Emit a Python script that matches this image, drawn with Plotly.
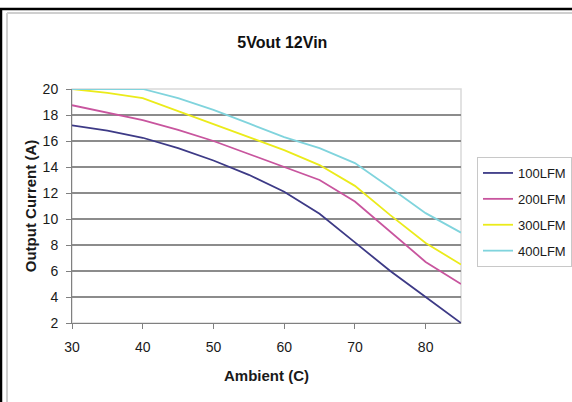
import plotly.graph_objects as go

# Derating curves: output current vs ambient temperature at four airflows
ambient_c = [30, 35, 40, 45, 50, 55, 60, 65, 70, 75, 80, 85]
lfm_100 = [17.2, 16.8, 16.25, 15.45, 14.5, 13.4, 12.1, 10.4, 8.2, 6.0, 4.0, 2.0]
lfm_200 = [18.75, 18.2, 17.6, 16.85, 16.0, 15.0, 14.0, 13.0, 11.35, 9.0, 6.7, 5.0]
lfm_300 = [20.0, 19.7, 19.3, 18.3, 17.35, 16.35, 15.3, 14.15, 12.55, 10.3, 8.15, 6.5]
lfm_400 = [20.0, 20.0, 20.0, 19.3, 18.4, 17.35, 16.3, 15.45, 14.3, 12.4, 10.45, 8.95]

series = [
    ("100LFM", lfm_100, "#3d3a86"),
    ("200LFM", lfm_200, "#c8559e"),
    ("300LFM", lfm_300, "#ebeb1a"),
    ("400LFM", lfm_400, "#80d4dd"),
]

x_ticks = [30, 40, 50, 60, 70, 80]
y_ticks = [2, 4, 6, 8, 10, 12, 14, 16, 18, 20]

W, H = 572, 402
ML, MR, MT, MB = 72, 111, 89, 79
PW, PH = W - ML - MR, H - MT - MB


def px(x):
    return (x - ML) / PW


def py(y):
    return (H - MB - y) / PH


FONT = "Liberation Sans, Arial, sans-serif"
AXIS_GREY = "#808080"

fig = go.Figure()
for i, (name, vals, color) in enumerate(series):
    fig.add_trace(go.Scatter(
        x=ambient_c, y=vals, name=name, mode="lines",
        line=dict(color=color, width=1.8),
        legendgroup=f"g{i}",
    ))

# outer frame lines
frame = [
    (0, 9, W, 9, "#000000", 2.5),
    (1, 9, 1, H, "#000000", 2.5),
    (7, 13, W, 13, "#cfcfcf", 2),
    (7, 13, 7, H, "#cfcfcf", 2),
]
shapes = [
    dict(type="line", xref="paper", yref="paper",
         x0=px(a), y0=py(b), x1=px(c), y1=py(d),
         line=dict(color=col, width=w))
    for a, b, c, d, col, w in frame
]
# light plot-area border
shapes.append(dict(type="rect", xref="x domain", yref="y domain",
                   x0=0, y0=0, x1=1, y1=1, layer="below",
                   line=dict(color="#d9d9d9", width=1.5)))

fig.update_layout(
    width=W, height=H,
    margin=dict(l=ML, r=MR, t=MT, b=MB, autoexpand=False),
    paper_bgcolor="white", plot_bgcolor="white",
    font=dict(family=FONT, size=14, color="#1a1a1a"),
    title=dict(text="<b>5Vout 12Vin</b>", x=px(264), xanchor="center",
               y=1 - 42 / H, yanchor="middle",
               font=dict(size=16, color="#111111")),
    xaxis=dict(
        range=[30, 85], tickvals=x_ticks, showgrid=False, zeroline=False,
        showline=True, linecolor=AXIS_GREY, linewidth=1,
        ticks="outside", ticklen=5, tickcolor=AXIS_GREY,
        tickfont=dict(size=14), ticklabelstandoff=6,
        title=dict(text="<b>Ambient (C)</b>", font=dict(size=15), standoff=16),
    ),
    yaxis=dict(
        range=[2, 20], tickvals=y_ticks, zeroline=False,
        showgrid=True, gridcolor="#8c8c8c", gridwidth=1.5,
        showline=True, linecolor=AXIS_GREY, linewidth=1,
        ticks="outside", ticklen=5, tickcolor=AXIS_GREY,
        tickfont=dict(size=14), ticklabelstandoff=5,
        title=dict(text="<b>Output Current (A)</b>", font=dict(size=15), standoff=2),
    ),
    legend=dict(
        x=px(477), y=py(157), xanchor="left", yanchor="top",
        bordercolor="#c8c8c8", borderwidth=1, bgcolor="white",
        font=dict(size=13), itemwidth=30, tracegroupgap=6,
        traceorder="grouped",
    ),
    shapes=shapes,
)

fig.write_html("out.html")
